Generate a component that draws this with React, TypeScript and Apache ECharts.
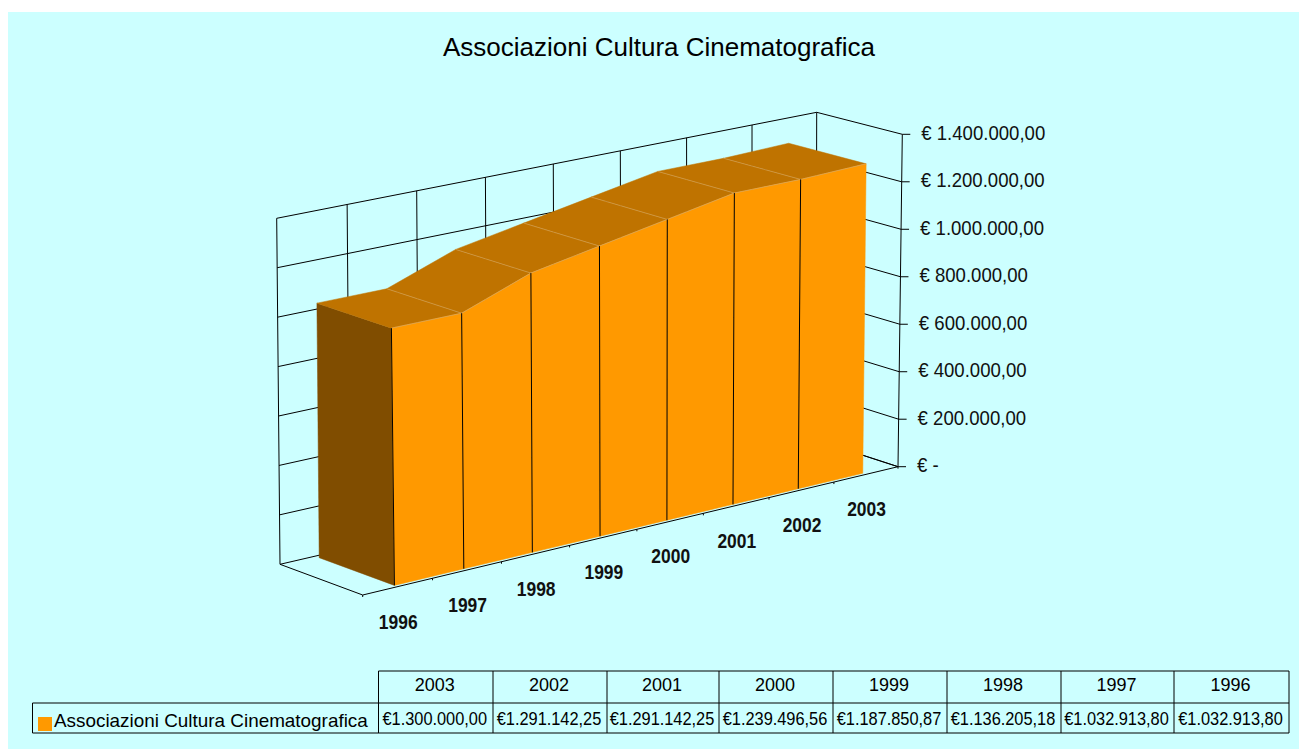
import React, { useEffect, useRef } from "react";
import * as echarts from "echarts";

const title = "Associazioni Cultura Cinematografica";
const years = ["1996", "1997", "1998", "1999", "2000", "2001", "2002", "2003"];
const values = [1032913.8, 1032913.8, 1136205.18, 1187850.87, 1239496.56, 1291142.25, 1291142.25, 1300000.0];
const yTicks = [0, 200000, 400000, 600000, 800000, 1000000, 1200000, 1400000];
const yTickLabels = ["€ -", "€ 200.000,00", "€ 400.000,00", "€ 600.000,00", "€ 800.000,00", "€ 1.000.000,00", "€ 1.200.000,00", "€ 1.400.000,00"];
const tableYears = ["2003", "2002", "2001", "2000", "1999", "1998", "1997", "1996"];
const tableValues = ["€1.300.000,00", "€1.291.142,25", "€1.291.142,25", "€1.239.496,56", "€1.187.850,87", "€1.136.205,18", "€1.032.913,80", "€1.032.913,80"];

const SANS = '"Liberation Sans", Arial, sans-serif';
const ORANGE = "#FF9900";
const TOP = "#BF7300";
const SIDE = "#804D00";
const EDGE = "#D9A860";

// The box of the 3D scene as it is seen on the page: [x, y]
const FRONT = { bl: [362.7, 595], br: [898, 466.7], tl: [358, 245], tr: [902.3, 134.3] };
const BACK = { bl: [280, 564.3], br: [816, 440], tl: [276.7, 218.3], tr: [816.7, 112.3] };
const D0 = 0.04;
const D1 = 0.95;
const PERSPECTIVE = 1.05;

const lerp = (a: number, b: number, k: number) => a + (b - a) * k;
function face(c: any, f: number, t: number) {
  const bx = lerp(c.bl[0], c.br[0], f), by = lerp(c.bl[1], c.br[1], f);
  const tx = lerp(c.tl[0], c.tr[0], f), ty = lerp(c.tl[1], c.tr[1], f);
  return [lerp(bx, tx, t), lerp(by, ty, t)];
}
function project(f0: number, t: number, d: number) {
  const f = (PERSPECTIVE * f0) / (1 + (PERSPECTIVE - 1) * f0);
  const a = face(FRONT, f, t), b = face(BACK, f, t);
  return [lerp(a[0], b[0], d), lerp(a[1], b[1], d)];
}
const seg = (p: number[], q: number[], stroke = "#000", lineWidth = 1, z2 = 0) => ({
  type: "line",
  z2,
  shape: { x1: p[0], y1: p[1], x2: q[0], y2: q[1] },
  style: { stroke, lineWidth },
});
const label = (text: string, x: number, y: number, font: string, align: string, scaleX = 1) => ({
  type: "text",
  x,
  y,
  scaleX,
  style: { text, font, fill: "#111", align, verticalAlign: "middle" },
});

function frameItem(params: any, api: any) {
  const cs = params.coordSys;
  const n = years.length;
  const toT = (v: number) => (cs.y + cs.height - api.coord([0, v])[1]) / cs.height;
  const band = api.size([1, 0])[0];
  const children: any[] = [];
  yTicks.forEach((v, i) => {
    const t = toT(v);
    children.push(seg(project(0, t, 1), project(1, t, 1)));
    children.push(seg(project(1, t, 1), project(1, t, 0)));
    const p = project(1, t, 0);
    children.push(seg(p, [p[0] + 8, p[1]]));
    children.push(label(yTickLabels[i], p[0] + 19, p[1] - 2, `21px ${SANS}`, "left", 0.885));
  });
  const tTop = toT(yTicks[yTicks.length - 1]);
  for (let i = 0; i <= n; i++) {
    const f = (api.coord([i, 0])[0] - band / 2 - cs.x) / cs.width;
    children.push(seg(project(f, 0, 1), project(f, tTop, 1)));
    const p = project(f, 0, 0);
    children.push(seg(p, [p[0], p[1] + 2]));
  }
  children.push(seg(project(0, 0, 0), project(0, 0, 1)));
  children.push(seg(project(0, 0, 0), project(1, 0, 0)));
  children.push(seg(project(1, 0, 0), project(1, tTop, 0)));
  children.push(seg(project(1, 0, 0), project(1, 0, 1)));
  years.forEach((y, i) => {
    const f = (api.coord([i, 0])[0] - cs.x) / cs.width;
    const p = project(f, 0, 0);
    children.push(label(y, p[0] + 0.5, p[1] + 35, `bold 21px ${SANS}`, "center", 0.83));
  });
  return { type: "group", children };
}

function areaItem(params: any, api: any) {
  const cs = params.coordSys;
  const i = api.value(0);
  const v = api.value(1);
  const at = (idx: number, val: number, d: number) => {
    const c = api.coord([idx, val]);
    return project((c[0] - cs.x) / cs.width, (cs.y + cs.height - c[1]) / cs.height, d);
  };
  const children: any[] = [];
  const poly = (pts: number[][], fill: string) => ({
    type: "polygon",
    shape: { points: pts },
    style: { fill, stroke: fill, lineWidth: 0.5 },
  });
  if (i === 0) {
    children.push(poly([at(i, 0, D0), at(i, v, D0), at(i, v, D1), at(i, 0, D1)], SIDE));
  }
  if (i < values.length - 1) {
    const w = values[i + 1];
    children.push(poly([at(i, v, D0), at(i + 1, w, D0), at(i + 1, w, D1), at(i, v, D1)], TOP));
    children.push(poly([at(i, 0, D0), at(i + 1, 0, D0), at(i + 1, w, D0), at(i, v, D0)], ORANGE));
    children.push(seg(at(i, v, D0), at(i + 1, w, D0), EDGE, 0.7, 4));
    children.push(seg(at(i, 0, D0), at(i, v, D0), "#000", 1, 5));
    if (i > 0) children.push(seg(at(i, v, D0), at(i, v, D1), EDGE, 0.6, 4));
  }
  return { type: "group", children };
}

// The data table under the chart
const TX = [378.5, 493, 607, 719, 833, 947, 1061, 1174, 1289];
const TY = [671, 703, 733];
const LEGEND_X = 32.5;
function tableGraphic() {
  const els: any[] = [];
  const hline = (x1: number, x2: number, y: number) => ({
    type: "line",
    shape: { x1, y1: y, x2, y2: y },
    style: { stroke: "#000", lineWidth: 1 },
  });
  const vline = (x: number, y1: number, y2: number) => ({
    type: "line",
    shape: { x1: x, y1, x2: x, y2 },
    style: { stroke: "#000", lineWidth: 1 },
  });
  els.push(hline(TX[0], TX[8], TY[0]));
  els.push(hline(LEGEND_X, TX[8], TY[1]));
  els.push(hline(LEGEND_X, TX[8], TY[2]));
  els.push(vline(LEGEND_X, TY[1], TY[2]));
  TX.forEach((x) => els.push(vline(x, TY[0], TY[2])));
  tableYears.forEach((y, i) => {
    const cx = (TX[i] + TX[i + 1]) / 2 - 1;
    els.push({ type: "text", x: cx, y: 685, style: { text: y, font: `18px ${SANS}`, fill: "#000", align: "center", verticalAlign: "middle" } });
    els.push({ type: "text", x: cx, y: 719, scaleX: 0.91, style: { text: tableValues[i], font: `18px ${SANS}`, fill: "#000", align: "center", verticalAlign: "middle" } });
  });
  els.push({ type: "rect", shape: { x: 38, y: 717, width: 14, height: 14 }, style: { fill: ORANGE } });
  els.push({ type: "text", x: 54, y: 721, scaleX: 1.05, style: { text: title, font: `18px ${SANS}`, fill: "#000", align: "left", verticalAlign: "middle" } });
  return els;
}

export default function App() {
  const ref = useRef<HTMLDivElement>(null);
  useEffect(() => {
    const chart = echarts.init(ref.current!, null, { renderer: "svg" });
    chart.setOption({
      animation: false,
      title: {
        text: title,
        left: 654,
        top: 29,
        textAlign: "center",
        textStyle: { fontFamily: SANS, fontSize: 26, fontWeight: "normal", color: "#000" },
      },
      grid: { left: 100, top: 100, width: 800, height: 400 },
      xAxis: { type: "category", data: years, show: false },
      yAxis: { type: "value", min: 0, max: 1400000, interval: 200000, show: false },
      graphic: tableGraphic(),
      series: [
        {
          type: "custom",
          name: "frame",
          silent: true,
          z: 1,
          renderItem: frameItem,
          encode: { x: 0, y: 1 },
          data: [[0, 0]],
        },
        {
          type: "custom",
          name: title,
          silent: true,
          z: 2,
          renderItem: areaItem,
          encode: { x: 0, y: 1 },
          data: values.map((v, i) => [i, v]),
        },
      ],
    });
    return () => chart.dispose();
  }, []);
  return (
    <div style={{ position: "absolute", left: 0, top: 0, width: 1299, height: 749, background: "#fff", overflow: "hidden" }}>
      <div style={{ position: "absolute", left: 8, top: 12, width: 1291, height: 737, background: "#CCFFFF" }} />
      <div ref={ref} style={{ position: "absolute", left: 0, top: 0, width: 1299, height: 749 }} />
    </div>
  );
}
